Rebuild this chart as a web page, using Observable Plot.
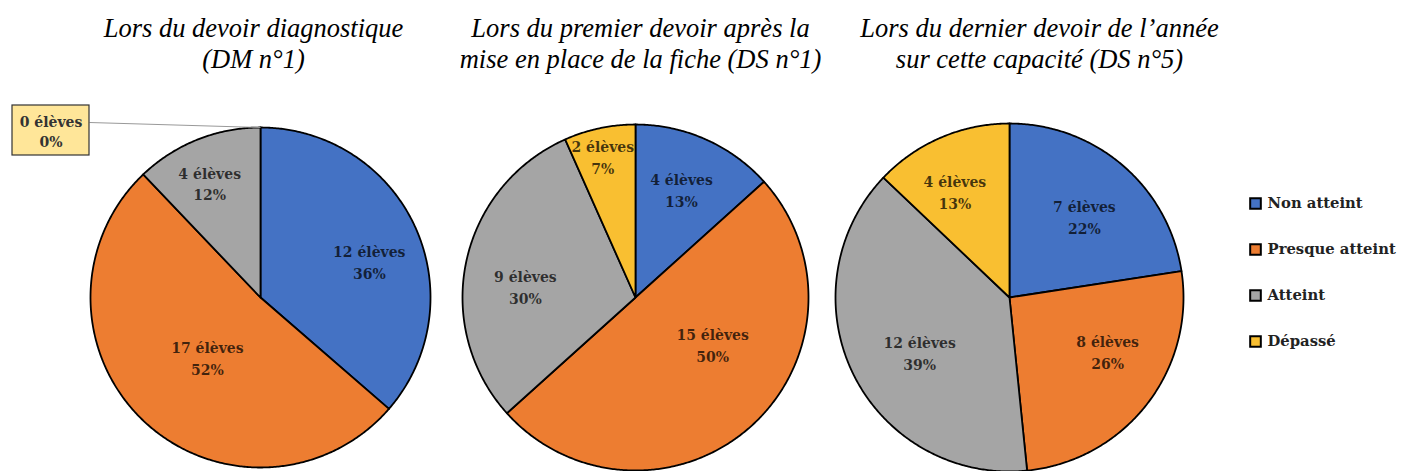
<!DOCTYPE html>
<html>
<head>
<meta charset="utf-8">
<script src="https://cdn.jsdelivr.net/npm/d3@7"></script>
<script src="https://cdn.jsdelivr.net/npm/@observablehq/plot@0.6"></script>
<style>
  html, body { margin: 0; padding: 0; background: #fff; }
</style>
</head>
<body>
<div id="chart"></div>
<script>
// ---- data ----
const categories = ["Non atteint", "Presque atteint", "Atteint", "Dépassé"];
const titles1 = ["Lors du devoir diagnostique", "(DM n°1)"];
const titles2 = ["Lors du premier devoir après la", "mise en place de la fiche (DS n°1)"];
const titles3 = ["Lors du dernier devoir de l’année", "sur cette capacité (DS n°5)"];
const counts1 = [12, 17, 4, 0];
const counts2 = [4, 15, 9, 2];
const counts3 = [7, 8, 12, 4];
const pct1 = [36, 52, 12, 0];
const pct2 = [13, 50, 30, 7];
const pct3 = [22, 26, 39, 13];

// ---- styles / layout ----
const colors = ["#4472C4", "#ED7D31", "#A5A5A5", "#F9BF31"];
const W = 1408, H = 471;
const pieCx = [260, 635, 1009];
const pieCy = 297;
const pieR = [170, 173, 174];
const titleCx = [253, 640, 1039];
// label placement: fraction of radius and small angular turn (deg) from slice middle
const labelFrac = [
  [0.675, 0.47, 0.74, 0],
  [0.68, 0.52, 0.64, 0.84],
  [0.635, 0.643, 0.603, 0.686]
];
const labelTurn = [
  [6, -2, -2, 0],
  [-1, -17, -6, -1],
  [2, -9, -5, -4]
];

const pies = [
  {counts: counts1, pct: pct1, titles: titles1},
  {counts: counts2, pct: pct2, titles: titles2},
  {counts: counts3, pct: pct3, titles: titles3}
];

const pieGen = d3.pie().sort(null).value(d => d);
const slicePts = [];
const labels = [];
const titleRows = [];
const zeroLabels = [];
pies.forEach((p, pi) => {
  const cx = pieCx[pi], cy = pieCy, r = pieR[pi];
  const arcs = pieGen(p.counts);
  arcs.forEach((a, i) => {
    const cat = categories[i];
    const key = pi + "-" + i;
    if (a.value > 0) {
      slicePts.push({key, cat, x: cx, y: cy});
      const n = Math.max(2, Math.ceil((a.endAngle - a.startAngle) / (Math.PI / 360)));
      for (let k = 0; k <= n; k++) {
        const t = a.startAngle + (a.endAngle - a.startAngle) * k / n;
        slicePts.push({key, cat, x: cx + r * Math.sin(t), y: cy - r * Math.cos(t)});
      }
      slicePts.push({key, cat, x: cx, y: cy});
      const mid = (a.startAngle + a.endAngle) / 2 + labelTurn[pi][i] * Math.PI / 180;
      const lr = r * labelFrac[pi][i];
      labels.push({x: cx + lr * Math.sin(mid), y: cy - lr * Math.cos(mid),
                   text: `${a.value} élèves\n${p.pct[i]}%`});
    } else {
      zeroLabels.push({text: `${a.value} élèves\n${p.pct[i]}%`,
                       ax: cx + r * Math.sin(a.startAngle), ay: cy - r * Math.cos(a.startAngle)});
    }
  });
  p.titles.forEach((t, li) => titleRows.push({x: titleCx[pi], y: 28 + li * 31, text: t}));
});

// callout box for zero slice
const boxX1 = 12, boxX2 = 89, boxY1 = 105, boxY2 = 155;
const callouts = zeroLabels.map(z => ({...z, x1: boxX1, x2: boxX2, y1: boxY1, y2: boxY2,
  lx: boxX2, ly: 122, cx: (boxX1 + boxX2) / 2, cy: (boxY1 + boxY2) / 2}));

const legendRows = categories.map((c, i) => ({cat: c, x: 1255, y: 203 + i * 46}));

const serif = "'DejaVu Serif', 'Liberation Serif', serif";
const times = "'Liberation Serif', 'Times New Roman', serif";

const chart = Plot.plot({
  width: W, height: H,
  margin: 0,
  x: {domain: [0, W], range: [0, W], axis: null},
  y: {domain: [0, H], range: [0, H], axis: null},
  color: {domain: categories, range: colors},
  marks: [
    Plot.line(slicePts, {x: "x", y: "y", z: "key", fill: "cat", stroke: "black",
      strokeWidth: 1.8, strokeLinejoin: "round", curve: "linear"}),
    Plot.text(labels, {x: "x", y: "y", text: "text", fontFamily: serif, fontSize: 14,
      fontWeight: "bold", fill: "black", fillOpacity: 0.72, lineHeight: 1.55}),
    Plot.link(callouts, {x1: "lx", y1: "ly", x2: "ax", y2: "ay", stroke: "#999", strokeWidth: 1}),
    Plot.rect(callouts, {x1: "x1", x2: "x2", y1: "y1", y2: "y2", fill: "#FFE699", stroke: "#333", strokeWidth: 1.2}),
    Plot.text(callouts, {x: "cx", y: "cy", text: "text", fontFamily: serif, fontSize: 14,
      fontWeight: "bold", fill: "#333", lineHeight: 1.4}),
    Plot.text(titleRows, {x: "x", y: "y", text: "text", fontFamily: times, fontSize: 26.5,
      fontStyle: "italic", fill: "black"}),
    Plot.dot(legendRows, {x: "x", y: "y", fill: "cat", stroke: "black", strokeWidth: 2,
      symbol: "square", r: 6}),
    Plot.text(legendRows, {x: d => d.x + 12, y: "y", text: "cat", textAnchor: "start",
      fontFamily: serif, fontSize: 14.8, fontWeight: "bold", fill: "#222"})
  ]
});
document.getElementById("chart").appendChild(chart);
</script>
</body>
</html>
